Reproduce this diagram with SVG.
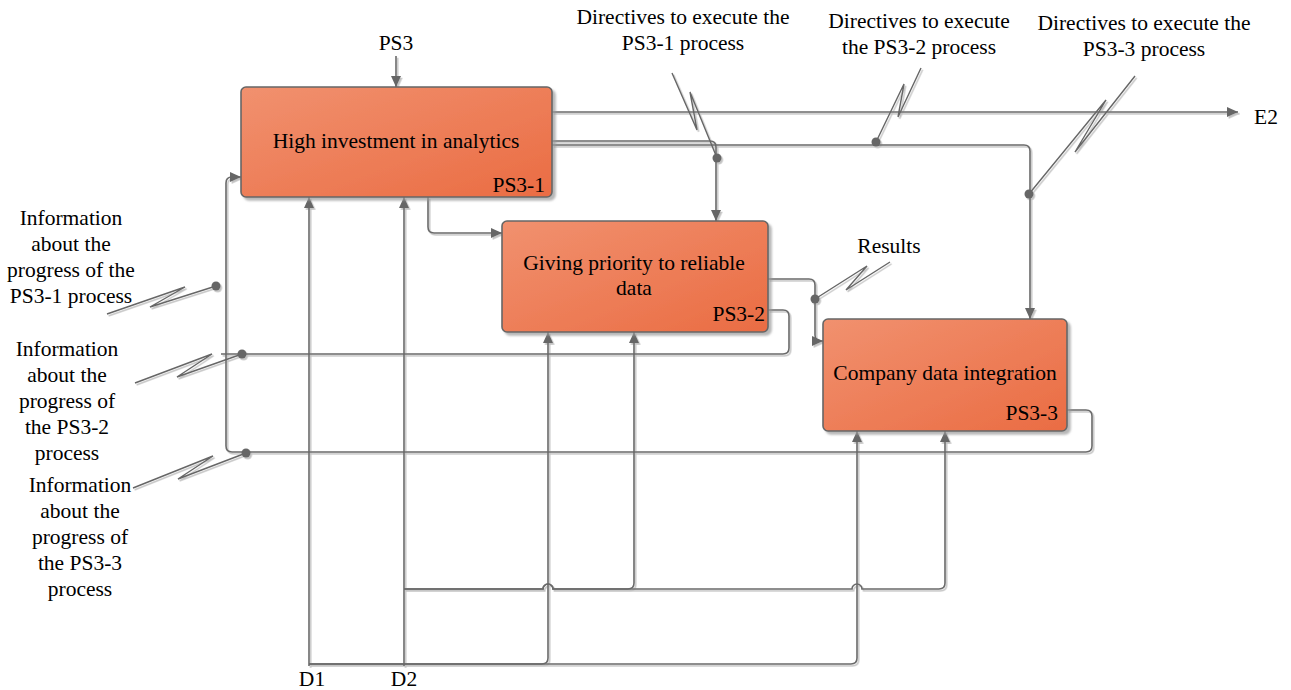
<svg xmlns="http://www.w3.org/2000/svg" width="1291" height="690" viewBox="0 0 1291 690">
<defs>
<linearGradient id="boxfill" x1="0" y1="0" x2="1" y2="1">
<stop offset="0" stop-color="#F1916F"/>
<stop offset="1" stop-color="#EA6C43"/>
</linearGradient>
<filter id="boxshadow" x="-10%" y="-10%" width="120%" height="130%">
<feDropShadow dx="3" dy="3" stdDeviation="1.2" flood-color="#999" flood-opacity="0.7"/>
</filter>
<filter id="lineshadow" x="-5%" y="-5%" width="110%" height="110%">
<feDropShadow dx="1.6" dy="1.8" stdDeviation="0.4" flood-color="#bbb" flood-opacity="0.9"/>
</filter>
<marker id="arr" markerUnits="userSpaceOnUse" markerWidth="11" markerHeight="10" refX="11" refY="5" orient="auto">
<path d="M0,0 L11,5 L0,10 z" fill="#666"/>
</marker>
</defs>
<style>
.box{fill:url(#boxfill);stroke:#666;stroke-width:1.6;filter:url(#boxshadow)}
.t{font-family:"Liberation Serif","Times New Roman",serif;font-size:21.5px;fill:#000}
.m{text-anchor:middle}
.e{text-anchor:end}
.c{fill:none;stroke:#6a6a6a;stroke-width:1.6}
.z{fill:none;stroke:#666;stroke-width:1.4;stroke-linejoin:miter}
.d{fill:#666}
.a{marker-end:url(#arr)}
</style>

<g id="connectors" filter="url(#lineshadow)">
<path class="c a" d="M396,56 V87"/>
<path class="c a" d="M552,112 H1238"/>
<path class="c a" d="M552,141 H710 q6,0 6,6 V221"/>
<path class="c a" d="M552,145 H1024 q6,0 6,6 V319"/>
<path class="c a" d="M428,197 V227 q0,6 6,6 H502"/>
<path class="c a" d="M768,279 H809 q6,0 6,6 V335 q0,6 6,6 H823"/>
<path class="c" d="M768,310 H783 q6,0 6,6 V348 q0,6 -6,6 H221"/>
<path class="c a" d="M1067,410 H1086 q6,0 6,6 V446 q0,6 -6,6 H232 q-6,0 -6,-6 V183 q0,-6 6,-6 H241"/>
<path class="c a" d="M309,666 V197"/>
<path class="c a" d="M309,664 H542 q6,0 6,-6 V332"/>
<path class="c a" d="M309,664 H851 q6,0 6,-6 V431"/>
<path class="c a" d="M404,666 V197"/>
<path class="c a" d="M404,589 H543 a5,5 0 0 1 10,0 H628 q6,0 6,-6 V332"/>
<path class="c a" d="M404,589 H543 a5,5 0 0 1 10,0 H852 a5,5 0 0 1 10,0 H939 q6,0 6,-6 V431"/>
<path class="z" d="M107,314 L185,287 L150,307 L216,286"/>
<circle class="d" cx="216" cy="286" r="4.5"/>
<path class="z" d="M135,383 L212,354 L177,377 L242,354"/>
<circle class="d" cx="242" cy="354" r="4.5"/>
<path class="z" d="M133,488 L213,456 L178,479 L246,453"/>
<circle class="d" cx="246" cy="453" r="4.5"/>
<path class="z" d="M672,73 L697,130 L690,92 L717,158"/>
<circle class="d" cx="717" cy="158" r="4.5"/>
<path class="z" d="M921,68 L898,117 L904,84 L876,142"/>
<circle class="d" cx="876" cy="142" r="4.5"/>
<path class="z" d="M1135,76 L1075,152 L1106,100 L1029,194"/>
<circle class="d" cx="1029" cy="194" r="4.5"/>
<path class="z" d="M890,262 L846,290 L867,266 L815,299"/>
<circle class="d" cx="815" cy="299" r="4.5"/>
</g>

<g id="PS3-1">
<rect class="box" x="241" y="87" width="311" height="110" rx="5"/>
<text class="t m" x="396" y="148">High investment in analytics</text>
<text class="t e" x="545" y="192">PS3-1</text>
</g>
<g id="PS3-2">
<rect class="box" x="502" y="221" width="266" height="111" rx="5"/>
<text class="t m" x="634" y="270">Giving priority to reliable</text>
<text class="t m" x="634" y="295">data</text>
<text class="t e" x="765" y="321">PS3-2</text>
</g>
<g id="PS3-3">
<rect class="box" x="823" y="319" width="244" height="112" rx="5"/>
<text class="t m" x="945" y="380">Company data integration</text>
<text class="t e" x="1058" y="420">PS3-3</text>
</g>

<g id="labels">
<text class="t m" x="396" y="50">PS3</text>
<text class="t" x="1254" y="124">E2</text>
<text class="t m" x="312" y="686">D1</text>
<text class="t m" x="404" y="686">D2</text>
<text class="t m" x="889" y="253">Results</text>
<text class="t m" x="683" y="24">Directives to execute the</text>
<text class="t m" x="683" y="50">PS3-1 process</text>
<text class="t m" x="919" y="28">Directives to execute</text>
<text class="t m" x="919" y="54">the PS3-2 process</text>
<text class="t m" x="1144" y="30">Directives to execute the</text>
<text class="t m" x="1144" y="56">PS3-3 process</text>
<text class="t m" x="71" y="225">Information</text>
<text class="t m" x="71" y="251">about the</text>
<text class="t m" x="71" y="277">progress of the</text>
<text class="t m" x="71" y="303">PS3-1 process</text>
<text class="t m" x="67" y="356">Information</text>
<text class="t m" x="67" y="382">about the</text>
<text class="t m" x="67" y="408">progress of</text>
<text class="t m" x="67" y="434">the PS3-2</text>
<text class="t m" x="67" y="460">process</text>
<text class="t m" x="80" y="492">Information</text>
<text class="t m" x="80" y="518">about the</text>
<text class="t m" x="80" y="544">progress of</text>
<text class="t m" x="80" y="570">the PS3-3</text>
<text class="t m" x="80" y="596">process</text>
</g>
</svg>
